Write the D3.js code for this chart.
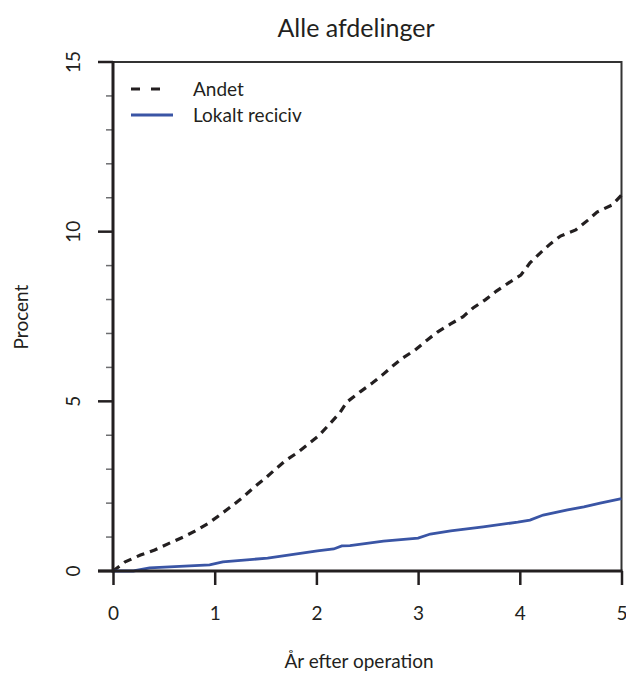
<!DOCTYPE html>
<html>
<head>
<meta charset="utf-8">
<script src="https://cdn.jsdelivr.net/npm/d3@7"></script>
<style>
    body { margin: 0; background: #fff; }
    svg text { font-family: Lato, "Open Sans", sans-serif; fill: #231f20; }
</style>
</head>
<body>
<svg id="chart" width="626" height="675"></svg>
<script>
// kumulativ incidens
var andetYears = [0, 0.12, 0.27, 0.41, 0.54, 0.69, 0.81, 0.94, 1.05, 1.17, 1.28, 1.38, 1.5, 1.59, 1.69, 1.81, 1.92, 2.02, 2.12, 2.23,
    2.3, 2.43, 2.55, 2.65, 2.75, 2.85, 2.97, 3.09, 3.19, 3.32, 3.44, 3.54, 3.66, 3.77, 3.89, 4.01, 4.1, 4.2, 4.3, 4.4, 4.55, 4.67, 4.76, 4.91, 5];
var andetPct = [0, 0.27, 0.47, 0.62, 0.8, 1.0, 1.18, 1.41, 1.65, 1.92, 2.18, 2.45, 2.74, 2.98, 3.24, 3.48, 3.74, 3.98, 4.3, 4.66,
    4.98, 5.28, 5.54, 5.78, 6.04, 6.28, 6.51, 6.81, 7.04, 7.28, 7.49, 7.75, 7.99, 8.25, 8.49, 8.72, 9.08, 9.37, 9.64, 9.87, 10.05, 10.34, 10.58, 10.79, 11.08];

var lokaltYears = [0, 0.2, 0.36, 0.95, 1.08, 1.52, 2.01, 2.17, 2.25, 2.33, 2.66, 3.0, 3.12, 3.32, 3.64, 3.98, 4.1, 4.23, 4.47, 4.63, 4.79, 5];
var lokaltPct = [0, 0.0, 0.09, 0.18, 0.27, 0.38, 0.59, 0.65, 0.74, 0.75, 0.88, 0.97, 1.09, 1.18, 1.3, 1.44, 1.5, 1.65, 1.8, 1.89, 2.0, 2.13];

var xTicks = [0, 1, 2, 3, 4, 5];
var yTicks = [0, 5, 10, 15];
var yMinor = [1, 2, 3, 4, 6, 7, 8, 9, 11, 12, 13, 14];

var seriesNames = ['Andet', 'Lokalt reciciv'];
var title = 'Alle afdelinger';
var xTitle = 'År efter operation';
var yTitle = 'Procent';

var svg = d3.select('#chart');

// plot region (px)
var pLeft = 113, pRight = 621.5, pTop = 62, pBottom = 571;

var x = d3.scaleLinear().domain([0, 5]).range([pLeft, pRight]);
var y = d3.scaleLinear().domain([0, 15]).range([pBottom, pTop]);

function zip(xs, ys) {
    return xs.map(function (d, i) { return [d, ys[i]]; });
}

var line = d3.line()
    .x(function (d) { return x(d[0]); })
    .y(function (d) { return y(d[1]); });

// box, top and right are thinner
svg.append('path')
    .attr('d', 'M' + pLeft + ',' + pTop + 'H' + pRight + 'V' + pBottom)
    .attr('fill', 'none')
    .attr('stroke', '#333')
    .attr('stroke-width', 2);

// curves
svg.append('path')
    .datum(zip(andetYears, andetPct))
    .attr('d', line)
    .attr('fill', 'none')
    .attr('stroke', '#231f20')
    .attr('stroke-width', 3.2)
    .attr('stroke-dasharray', '8,6');

svg.append('path')
    .datum(zip(lokaltYears, lokaltPct))
    .attr('d', line)
    .attr('fill', 'none')
    .attr('stroke', '#3a55a5')
    .attr('stroke-width', 2.8);

// x axis
var xAxis = d3.axisBottom(x)
    .tickValues(xTicks)
    .tickFormat(d3.format('d'))
    .tickSize(14)
    .tickPadding(22)
    .tickSizeOuter(0);

var gx = svg.append('g')
    .attr('transform', 'translate(0,' + pBottom + ')')
    .call(xAxis);
gx.select('.domain').remove();
gx.selectAll('line').attr('stroke', '#231f20').attr('stroke-width', 2.5);
gx.selectAll('text').attr('font-size', 19).attr('font-family', null).style('fill', '#231f20');

svg.append('line')
    .attr('x1', 98).attr('x2', pRight + 1)
    .attr('y1', pBottom).attr('y2', pBottom)
    .attr('stroke', '#231f20').attr('stroke-width', 3);

// y axis
svg.append('g')
    .selectAll('line')
    .data(yMinor)
    .enter().append('line')
    .attr('x1', pLeft - 7).attr('x2', pLeft)
    .attr('y1', function (d) { return y(d); })
    .attr('y2', function (d) { return y(d); })
    .attr('stroke', '#6d6e71')
    .attr('stroke-width', 1.5);

svg.append('g')
    .selectAll('line')
    .data(yTicks)
    .enter().append('line')
    .attr('x1', 98).attr('x2', pLeft)
    .attr('y1', function (d) { return y(d); })
    .attr('y2', function (d) { return y(d); })
    .attr('stroke', '#231f20')
    .attr('stroke-width', 2.5);

svg.append('g')
    .selectAll('text')
    .data(yTicks)
    .enter().append('text')
    .attr('transform', function (d) { return 'translate(80,' + y(d) + ') rotate(-90)'; })
    .attr('text-anchor', 'middle')
    .attr('font-size', 19)
    .text(function (d) { return d; });

svg.append('line')
    .attr('x1', pLeft).attr('x2', pLeft)
    .attr('y1', pTop - 1).attr('y2', pBottom + 1.5)
    .attr('stroke', '#231f20').attr('stroke-width', 3);

// titles
svg.append('text')
    .attr('x', 356).attr('y', 37)
    .attr('text-anchor', 'middle')
    .attr('font-size', 25)
    .text(title);

svg.append('text')
    .attr('x', 359).attr('y', 668)
    .attr('text-anchor', 'middle')
    .attr('font-size', 19)
    .text(xTitle);

svg.append('text')
    .attr('transform', 'translate(28,317) rotate(-90)')
    .attr('text-anchor', 'middle')
    .attr('font-size', 19)
    .text(yTitle);

// legend
var legend = svg.append('g').attr('class', 'legend');
var legendRows = [
    { name: seriesNames[0], dash: '9,11', color: '#231f20', width: 3.2, y: 89, x2: 160 },
    { name: seriesNames[1], dash: null, color: '#3a55a5', width: 2.8, y: 115, x2: 173 }
];
legendRows.forEach(function (r) {
    legend.append('line')
        .attr('x1', 131).attr('x2', r.x2)
        .attr('y1', r.y).attr('y2', r.y)
        .attr('stroke', r.color)
        .attr('stroke-width', r.width)
        .attr('stroke-dasharray', r.dash);
    legend.append('text')
        .attr('x', 193).attr('y', r.y + 7)
        .attr('font-size', 19)
        .text(r.name);
});
</script>
</body>
</html>
